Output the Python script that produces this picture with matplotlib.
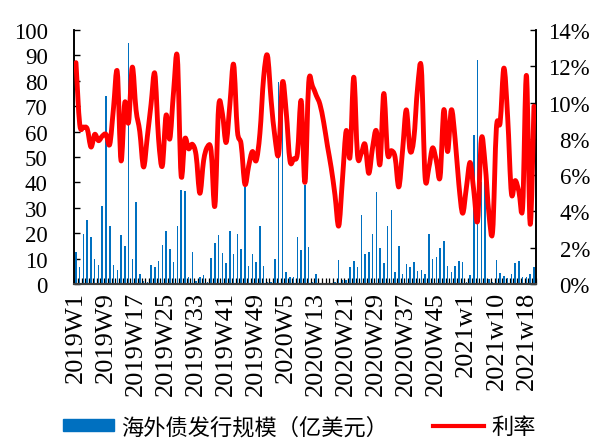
import matplotlib.pyplot as plt
import numpy as np
from matplotlib.path import Path
from matplotlib.patches import PathPatch, Patch
from matplotlib.lines import Line2D

plt.rcParams["font.family"] = ["Liberation Serif", "DejaVu Serif"]

# week labels: full 2019 and 2020, 2021 has no w9 in the source table
weeks_2019 = [f"2019W{w}" for w in range(1, 53)]
weeks_2020 = [f"2020W{w}" for w in range(1, 53)]
weeks_2021 = [f"2021w{w}" for w in list(range(1, 9)) + list(range(10, 21))]
weeks = weeks_2019 + weeks_2020 + weeks_2021

# overseas bond issuance, 100 million USD
issuance = [
    12.5, 6.6, 19.8, 25.0, 18.4, 9.8, 7.6, 30.7, 74.2, 23.0,
    7.6, 5.4, 19.4, 14.8, 94.9, 9.8, 32.4, 4.1, 1.0, 0.8,
    7.6, 6.6, 9.2, 15.2, 20.7, 13.9, 8.8, 22.7, 37.0, 36.5,
    2.6, 12.7, 1.2, 2.6, 3.6, 0.8, 10.1, 16.2, 19.4, 12.2,
    8.3, 20.7, 11.8, 19.8, 13.8, 38.0, 7.0, 11.8, 8.8, 22.7,
    7.2, 0.9, 0.8, 9.7, 79.5, 78.0, 4.6, 2.9, 2.6, 18.4,
    13.4, 39.1, 14.4, 0.8, 3.9, 0.0, 0.0, 0.0, 0.0, 0.7,
    9.3, 1.5, 1.6, 6.6, 9.2, 6.6, 27.2, 12.0, 12.5, 19.7,
    36.1, 14.2, 8.3, 22.7, 29.3, 4.6, 14.8, 3.9, 7.8, 6.5,
    8.6, 5.0, 5.5, 3.9, 19.8, 9.7, 10.8, 14.0, 17.0, 7.2,
    4.7, 7.2, 9.0, 8.5, 0.8, 3.7, 58.8, 88.3, 40.0, 48.6,
    1.8, 0.8, 9.6, 4.3, 3.0, 2.4, 3.9, 8.3, 9.2, 2.6,
    2.6, 3.8, 6.6,
]

# weighted coupon rate, %
rate = [
    12.2, 8.8, 8.65, 8.55, 7.55, 8.25, 7.9, 8.15, 8.25, 7.7,
    9.7, 11.7, 6.8, 10.0, 8.9, 11.95, 9.6, 8.4, 6.45, 8.1,
    9.9, 11.6, 8.0, 6.5, 9.3, 8.0, 10.6, 12.5, 6.0, 8.0,
    7.45, 7.7, 7.1, 5.0, 6.8, 7.55, 7.35, 4.3, 9.75, 9.4,
    7.8, 9.9, 12.1, 8.45, 7.7, 5.5, 6.5, 7.3, 6.8, 8.3,
    11.4, 12.6, 10.1, 8.1, 7.2, 11.1, 9.5, 6.8, 6.9, 7.2,
    10.1, 5.6, 11.1, 10.9, 10.4, 9.9, 8.9, 7.6, 6.4, 4.9,
    3.2, 5.8, 8.45, 7.0, 11.4, 7.1, 7.2, 7.7, 6.1, 7.5,
    8.45, 6.6, 10.5, 7.2, 7.35, 7.0, 5.35, 7.35, 9.6, 7.35,
    8.0, 10.8, 11.9, 5.9, 6.4, 7.5, 6.8, 5.9, 9.6, 7.3,
    9.6, 8.0, 5.5, 3.9, 5.3, 6.7, 5.1, 3.5, 8.0, 6.6,
    3.9, 2.9, 8.6, 8.9, 11.9, 9.2, 5.0, 5.7, 5.1, 4.25,
    11.5, 3.3, 9.8,
]

BLUE = "#0070C0"
RED = "#FF0000"
cjk = ["Noto Sans CJK SC", "DejaVu Sans"]


def smooth_path(x, y):
    # Catmull-Rom style cubic Bezier through every point
    pts = np.column_stack([x, y])
    p = np.vstack([pts[0], pts, pts[-1]])
    verts = [pts[0]]
    codes = [Path.MOVETO]
    for k in range(1, len(p) - 2):
        c1 = p[k] + (p[k + 1] - p[k - 1]) / 6
        c2 = p[k + 1] - (p[k + 2] - p[k]) / 6
        verts += [c1, c2, p[k + 1]]
        codes += [Path.CURVE4] * 3
    return Path(verts, codes)


fig = plt.figure(figsize=(5.99, 4.39), dpi=100)
ax = fig.add_axes([0.1237, 0.3508, 0.7708, 0.5786])
ax2 = ax.twinx()

x = np.arange(len(weeks))
ax.bar(x, issuance, width=0.4, color=BLUE, zorder=2)
ax.set_xlim(-0.5, len(weeks) - 0.5)
ax.set_ylim(0, 100)
ax.set_yticks(np.arange(0, 101, 10))

ax2.add_patch(PathPatch(smooth_path(x, rate), fill=False, edgecolor=RED,
                        lw=3.5, capstyle="round", joinstyle="round", zorder=3))
ax2.set_ylim(0, 14)
ax2.set_yticks(np.arange(0, 15, 2))
ax2.set_yticklabels([f"{v}%" for v in range(0, 15, 2)])

ax.set_xticks(x[::8])
ax.set_xticklabels(weeks[::8], rotation=90, fontsize=19)
ax.set_xticks(np.arange(-0.5, len(weeks), 1), minor=True)
ax.tick_params(axis="x", which="major", length=0, pad=5)
ax.tick_params(axis="x", which="minor", direction="in", length=4.5, width=0.9,
               color="black")
ax.tick_params(axis="y", direction="in", length=4.5, width=1, pad=19,
               labelsize=16.5)
ax2.tick_params(axis="y", direction="in", length=4.5, width=1, pad=39,
                labelsize=16.5)
for lab in ax2.get_yticklabels():
    lab.set_horizontalalignment("right")

for a in (ax, ax2):
    a.spines["top"].set_visible(False)
    a.spines["left"].set_linewidth(1.2)
    a.spines["right"].set_linewidth(1.2)
    a.spines["bottom"].set_color("#404040")
    a.spines["bottom"].set_linewidth(1.5)

handles = [Patch(color=BLUE), Line2D([], [], color=RED, lw=3)]
fig.legend(handles, ["海外债发行规模（亿美元）", "利率"], loc="center",
           bbox_to_anchor=(0.5, 0.026), ncol=2, frameon=False,
           prop={"family": cjk, "size": 16}, handlelength=2.3,
           handleheight=0.45, handletextpad=0.35, columnspacing=2.0)

fig.savefig("out.png", dpi=100)
